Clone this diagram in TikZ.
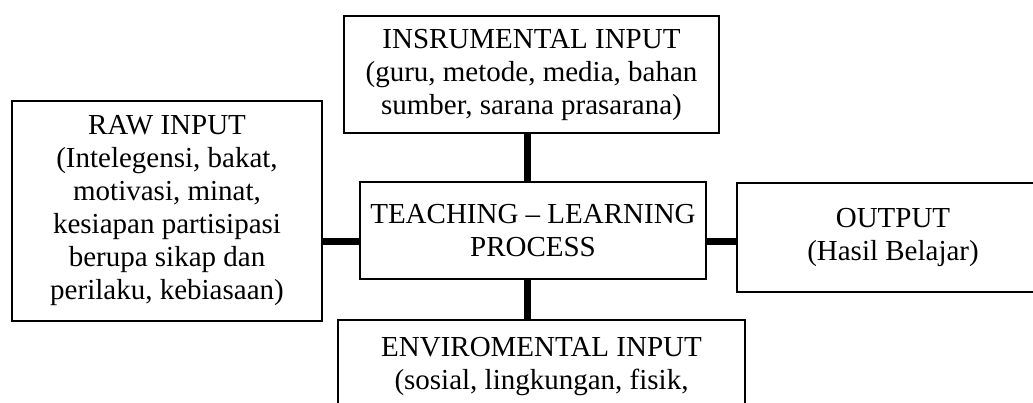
\documentclass[tikz,border=0pt]{standalone}
\usepackage{fontspec}
\setmainfont{Liberation Serif}
\begin{document}
\begin{tikzpicture}[x=1pt,y=-1pt,
  box/.style={draw, line width=2pt, rectangle, align=center, inner sep=0pt, font=\fontsize{29}{33}\selectfont},
  txt/.style={align=center, inner sep=0pt, font=\fontsize{29}{33}\selectfont},
  link/.style={line width=7pt}]
\useasboundingbox (0,0) rectangle (1033,403);
\node[box, minimum width=375pt, minimum height=117pt] (ins) at (531.5,74.5) {INSRUMENTAL INPUT\\(guru, metode, media, bahan\\sumber, sarana prasarana)};
\node[box, minimum width=310pt, minimum height=220pt] (raw) at (167,211) {RAW INPUT\\(Intelegensi, bakat,\\motivasi, minat,\\kesiapan partisipasi\\berupa sikap dan\\perilaku, kebiasaan)};
\node[box, minimum width=346pt, minimum height=97pt] (tlp) at (533,230.5) {TEACHING – LEARNING\\PROCESS};
\node[box, minimum width=312pt, minimum height=109pt] (out) at (893,237.5) {OUTPUT\\(Hasil Belajar)};
\node[box, minimum width=407pt, minimum height=120pt] (env) at (541.5,380) {};
\node[txt, anchor=north] (envtext) at (541.5,337) {ENVIROMENTAL INPUT\\(sosial, lingkungan, fisik,};
\coordinate (hl) at (0,241.5);
\coordinate (vl) at (527,0);
\draw[link] (raw.east |- hl) -- (tlp.west |- hl);
\draw[link] (tlp.east |- hl) -- (out.west |- hl);
\draw[link] (vl |- ins.south) -- (vl |- tlp.north);
\draw[link] (vl |- tlp.south) -- (vl |- env.north);
\end{tikzpicture}
\end{document}
